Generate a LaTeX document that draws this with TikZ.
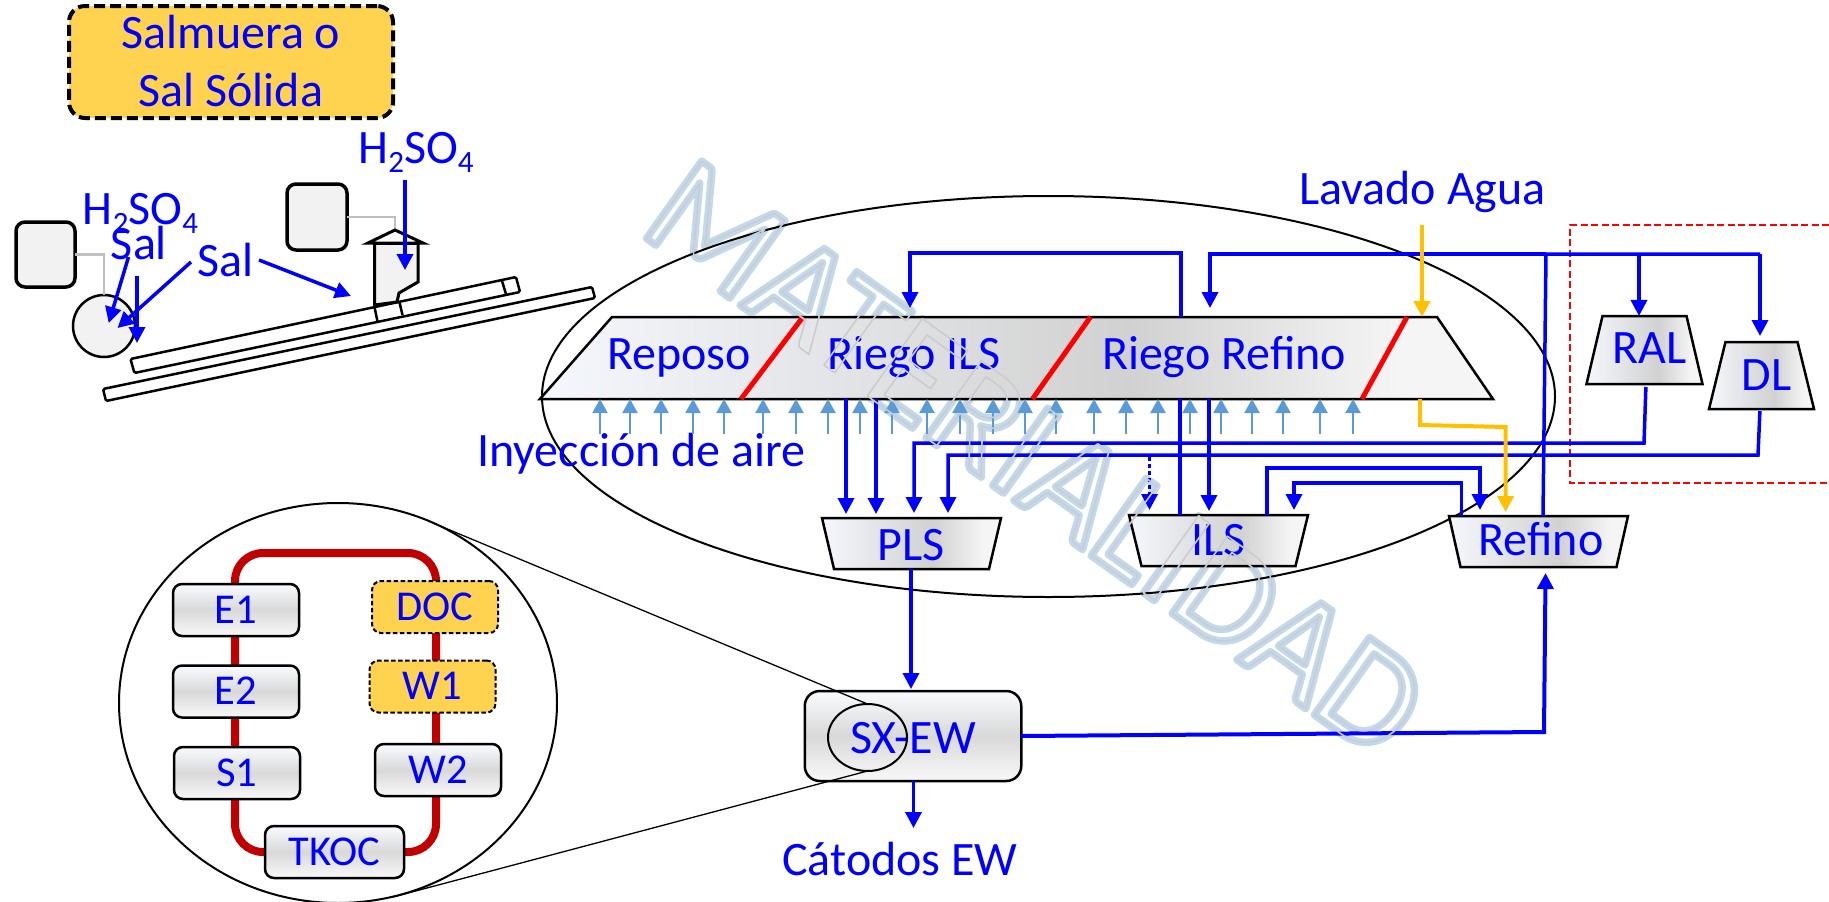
\documentclass[tikz,border=0pt]{standalone}
\usepackage{fontspec}
\setmainfont{Carlito}
\usetikzlibrary{arrows.meta,shapes.geometric}
\definecolor{flowblue}{HTML}{0000FF}
\definecolor{airblue}{HTML}{5B9BD5}
\definecolor{gold}{HTML}{FFD34F}
\definecolor{amber}{HTML}{FFC000}
\definecolor{pipe}{HTML}{C00000}
\definecolor{softgray}{HTML}{F2F2F2}
\pgfdeclarehorizontalshading{hgrad}{100bp}{rgb(0bp)=(0.96,0.97,0.99);rgb(25bp)=(0.96,0.97,0.99);rgb(56bp)=(0.82,0.82,0.82);rgb(70bp)=(0.96,0.96,0.96);rgb(100bp)=(0.98,0.98,0.98)}
\pgfdeclareverticalshading{vgrad}{100bp}{rgb(0bp)=(0.96,0.96,0.96);rgb(28bp)=(0.96,0.96,0.96);rgb(50bp)=(0.85,0.85,0.85);rgb(72bp)=(0.96,0.97,0.98);rgb(100bp)=(0.96,0.97,0.98)}
\newcommand{\bigtxt}{\fontsize{48}{58}\selectfont}
\newcommand{\midtxt}{\fontsize{42.5}{48}\selectfont}
\newcommand{\subnum}[1]{\raisebox{-9pt}{\fontsize{31}{31}\selectfont #1}}
\newcommand{\wmk}[2]{\special{pdf:code 1 Tr #1 w 1 j 1 J #2 RG}MATERIALIDAD\special{pdf:code 0 Tr 1 w 0 j 0 J 0 G}}
\tikzset{
  lbl/.style={text=flowblue,font=\bigtxt,inner sep=0,outer sep=0,anchor=base},
  flow/.style={draw=flowblue,line width=3.5pt,-{Triangle[length=16pt,width=16pt]},line join=miter},
  flowplain/.style={draw=flowblue,line width=3.5pt,line join=miter},
  airflow/.style={draw=airblue,line width=2pt,-{Triangle[length=14pt,width=15pt]}},
  amberflow/.style={draw=amber,line width=4pt,-{Triangle[length=16pt,width=16pt]},line join=miter},
  tbox/.style={trapezium,trapezium stretches body=true,draw=black,line width=2.5pt,shade,shading=hgrad,inner sep=0,outer sep=0,text=flowblue,font=\bigtxt,text depth=0pt},
  rbox/.style={rectangle,rounded corners=9pt,draw=black,line width=2.5pt,shade,shading=vgrad,inner sep=0,outer sep=0,text=flowblue,font=\midtxt,minimum width=126pt,minimum height=52pt,text height=26pt,text depth=0pt},
  ybox/.style={rectangle,rounded corners=9pt,draw=black,line width=2pt,dash pattern=on 4.5pt off 2.5pt,fill=gold,inner sep=0,outer sep=0,text=flowblue,font=\midtxt,minimum width=126pt,minimum height=52pt,text height=26pt,text depth=0pt},
  tank/.style={rectangle,rounded corners=9pt,draw=black,line width=3.5pt,fill=softgray,inner sep=0,outer sep=0},
  pipeline/.style={draw=black!25,line width=2.5pt},
  belt/.style={draw=black,line width=2.5pt,fill=white,rounded corners=1.5pt},
  thinline/.style={draw=black,line width=1.3pt},
  wm/.style={inner sep=0,outer sep=0,rotate=-35.5,font=\fontsize{148}{148}\selectfont}
}
\begin{document}
\begin{tikzpicture}[x=1pt,y=-1pt]
\useasboundingbox (0,0) rectangle (1829,902);
% watermark halo, under the drawing
\node[wm] (wmA) at (1036,458) {\wmk{7.5}{0.76 0.85 0.93}};
% big ellipses
\node[draw=black,line width=2pt,ellipse,minimum width=1013pt,minimum height=401pt,inner sep=0,outer sep=0] (heap) at (1048.5,396.5) {};
\node[draw=black,line width=2pt,ellipse,minimum width=438pt,minimum height=400pt,inner sep=0,outer sep=0] (zoomc) at (338,703) {};
% Salmuera box
\node[rectangle,rounded corners=16pt,draw=black,line width=4pt,dash pattern=on 11pt off 5pt,fill=gold,minimum width=324pt,minimum height=112pt,inner sep=0,outer sep=0,align=center,text=flowblue,font=\bigtxt] (brine) at (231,62) {\raisebox{2pt}{Salmuera o}\\\raisebox{2pt}{Sal Sólida}};
% left scene
\node[tank,minimum width=59pt,minimum height=65pt] (tankL) at (45.5,254.5) {};
\node[tank,minimum width=60pt,minimum height=66pt] (tankR) at (317,217) {};
\node[circle,draw=black,line width=2.5pt,fill=softgray,minimum size=62pt,inner sep=0,outer sep=0] (mix) at (104,326) {};
\draw[pipeline] (tankL.east) -| (mix.north);
\coordinate (hopTop) at (395,230);
\draw[pipeline] (tankR.east) -| (hopTop);
\draw[belt] (103,389) -- (106,401) -- (595,298) -- (592,287) -- cycle;
\draw[belt] (134.4,373) -- (130.5,359) -- (516,277) -- (520,292) -- cycle;
\draw[black,line width=2.5pt] (502,281) -- (506,294);
\draw[black,line width=2.5pt] (374.5,307) -- (377.6,322);
\draw[black,line width=2.5pt] (399.4,302) -- (402.5,315);
\draw[draw=black,line width=3pt,fill=softgray] (374.5,243.3) -- (418,243.3) -- (418,282) -- (399,293) -- (397,302) -- (374.5,305) -- cycle;
\draw[draw=black,line width=3pt,fill=white,line join=miter] (368,243) -- (395,230) -- (423,243) -- cycle;
% labels in the left scene
\node[lbl] (acidR) at (416,163) {H\subnum{2}SO\subnum{4}};
\node[lbl] (acidL) at (140.5,224) {H\subnum{2}SO\subnum{4}};
\node[lbl] (salA) at (139,259) {Sal};
\node[lbl] (salB) at (225.5,276) {Sal};
\coordinate (acidRout) at (405,180);
\coordinate (hopIn) at (405,270);
\coordinate (salAout) at (128.5,257);
\coordinate (mixA) at (108.7,323);
\coordinate (acidLout) at (137,276);
\coordinate (mixB) at (137,343);
\coordinate (salBoutL) at (191,262);
\coordinate (mixC) at (117.5,328);
\coordinate (salBoutR) at (259,260);
\coordinate (beltIn) at (351,296);
\draw[flow] (acidRout) -- (hopIn);
\draw[flow] (salAout) -- (mixA);
\draw[flow] (acidLout) -- (mixB);
\draw[flow] (salBoutL) -- (mixC);
\draw[flow] (salBoutR) -- (beltIn);
% dashed red frame
\coordinate (frameTR) at (1829,225);
\coordinate (frameBR) at (1829,483);
\draw[red,line width=2pt,dash pattern=on 7pt off 3.5pt] (frameTR) -- (1570,225) -- (1570,483) -- (frameBR);
% pad
\node[tbox,trapezium left angle=22.6,trapezium right angle=28.2,minimum width=953pt,minimum height=82pt,text height=30pt,text width=100pt] (pad) at (1024.5,358) {};
\node[lbl] (tRep) at (679,369) {Reposo};
\node[lbl] (tIls) at (914,369) {Riego ILS};
\node[lbl] (tRef) at (1224,369) {Riego Refino};
\draw[red,line width=5pt] (803,0 |- pad.north) -- (741,0 |- pad.south);
\draw[red,line width=5pt] (1090.5,0 |- pad.north) -- (1032.5,0 |- pad.south);
\draw[red,line width=5pt] (1407,0 |- pad.north) -- (1362,0 |- pad.south);
% air
\node[lbl] (tAir) at (641.5,466) {Inyección de aire};
\foreach \x in {600,630,661,693,724,763,796,828,860,892,927,960,993,1025,1056,1094,1126,1158,1190,1221,1252,1283,1320,1353}{
  \coordinate (air\x) at (\x,434);
  \draw[airflow] (air\x) -- (air\x |- pad.south);
}
% ponds
\node[tbox,shape border rotate=180,trapezium left angle=70.0,trapezium right angle=70.0,minimum width=179pt,minimum height=51pt,text height=33pt] (pls) at (911.5,543.5) {PLS};
\node[tbox,shape border rotate=180,trapezium left angle=66.7,trapezium right angle=66.7,minimum width=179pt,minimum height=51pt,text height=29pt] (ils) at (1218.5,540.5) {ILS};
\node[tbox,shape border rotate=180,trapezium left angle=66.9,trapezium right angle=66.9,minimum width=179pt,minimum height=51pt,text height=27pt] (ref) at (1538.5,541.5) {\hspace*{5pt}Refino};
\node[tbox,trapezium left angle=58.4,trapezium right angle=58.4,minimum width=104pt,minimum height=68pt,text height=26pt] (ral) at (1644.5,350) {\hspace*{10pt}RAL};
\node[tbox,trapezium left angle=60.4,trapezium right angle=60.4,minimum width=105pt,minimum height=67pt,text height=29pt] (dl) at (1761.5,375.5) {\hspace*{10pt}DL};
% SX-EW
\node[rectangle,rounded corners=15pt,draw=black,line width=2.5pt,shade,shading=vgrad,inner sep=0,outer sep=0,text=flowblue,font=\bigtxt,minimum width=216.5pt,minimum height=90pt,text height=34pt,text depth=0pt] (sx) at (913,736) {SX-EW};
\node[lbl] (tCat) at (900,875) {Cátodos EW};
\node[lbl] (tLav) at (1422.5,204) {Lavado Agua};
% flows
\draw[flow] (1181,0 |- pad.north) -- (1181,253) -- (910,253) -- (910,308);
\draw[flowplain] (1180,0 |- pad.south) -- (1180,0 |- ils.north);
\draw[flow] (1546,254) -- (1210,254) -- (1210,308);
\draw[flowplain] (1543,0 |- ref.north) -- (1546,254) -- (1760,254);
\draw[flow] (1760,254) -- (1760,336);
\draw[flow] (1639,254) -- (1639,0 |- ral.north);
\draw[flow,shorten >=4pt] (846,0 |- pad.south) -- (846,0 |- pls.north);
\draw[flow,shorten >=4pt] (876,0 |- pad.south) -- (876,0 |- pls.north);
\draw[flow,shorten >=5pt,shorten <=3pt] (1646,0 |- ral.south) -- (1644,443) -- (914,443) -- (914,0 |- pls.north);
\draw[flow,shorten >=5pt,shorten <=2pt] (1760,0 |- dl.south) -- (1758,455) -- (948,455) -- (948,0 |- pls.north);
\draw[flow,dash pattern=on 4pt off 3pt] (1149.5,457) -- (1149.5,510);
\draw[flow,shorten >=4pt] (1209,0 |- pad.south) -- (1209,0 |- ils.north);
\draw[flow,shorten >=6pt] (1267,0 |- ils.north) -- (1267,468) -- (1480,468) -- (1480,0 |- ref.north);
\draw[flow,shorten >=5pt] (1461.5,0 |- ref.north) -- (1461.5,483) -- (1294,483) -- (1294,0 |- ils.north);
\draw[amberflow] (1422,225) -- (1422,0 |- pad.north);
\draw[amberflow,shorten >=4pt] (1420,0 |- pad.south) -- (1420,425) -- (1505.6,427) -- (1505.6,0 |- ref.north);
\draw[flow,shorten >=2pt] (911,0 |- pls.south) -- (911,0 |- sx.north);
\draw[flow] (913.5,0 |- sx.south) -- (913.5,828);
\draw[flow,line width=4pt,shorten >=6pt] (sx.east) -- (1544,732) -- (1545.6,0 |- ref.south);
% zoom inset
\draw[draw=pipe,line width=8pt,rounded corners=28pt] (235,553) rectangle (436,852);
\node[rbox] (e1) at (236,610) {E1};
\node[rbox] (e2) at (236,691.5) {E2};
\node[rbox] (s1) at (237,773) {S1};
\node[ybox] (doc) at (435,607) {DOC};
\node[ybox] (w1) at (432.5,686.5) {W1};
\node[rbox] (w2) at (438,770) {W2};
\node[rbox,minimum width=139pt] (tk) at (334.5,852) {TKOC};
% magnifier
\node[draw=black,line width=2pt,ellipse,minimum width=79pt,minimum height=67pt,inner sep=0,outer sep=0] (lens) at (867.5,737.5) {};
\coordinate (zTop) at (433,523);
\coordinate (zBot) at (393,897);
\draw[thinline] (zTop) -- (lens.north);
\draw[thinline] (zBot) -- (lens.south);
% watermark outline, over the drawing
\node[wm] (wmB) at (1036,458) {\wmk{1.6}{0.8 0.8 0.8}};
\end{tikzpicture}
\end{document}
